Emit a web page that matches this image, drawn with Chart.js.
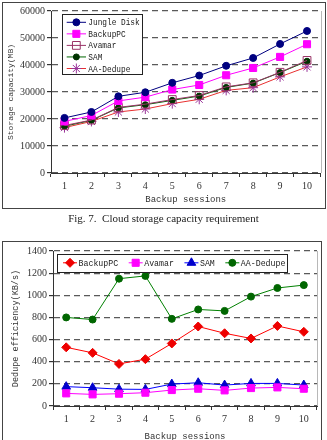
<!DOCTYPE html>
<html><head><meta charset="utf-8">
<script src="https://cdn.jsdelivr.net/npm/chart.js@4"></script>
<style>
html,body{margin:0;padding:0;background:#fff;overflow:hidden;width:327px;height:440px;}
#wrap{position:relative;width:327px;height:440px;overflow:hidden;}
canvas{position:absolute;left:0;}
.frame{position:absolute;border:1.5px solid #444;box-sizing:border-box;pointer-events:none;}
#cap{position:absolute;left:0;width:327px;top:212px;text-align:center;font:11px "Liberation Serif";color:#222;line-height:13px;white-space:pre;}
</style></head><body>
<div id="wrap">
<canvas id="c1" width="327" height="210" style="top:0"></canvas>
<div class="frame" style="left:2px;top:2px;width:324px;height:207px"></div>
<div id="cap">Fig. 7.  Cloud storage capacity requirement</div>
<canvas id="c2" width="327" height="204" style="top:240px"></canvas>
<div class="frame" style="left:2px;top:241px;width:320px;height:210px"></div>
</div>
<script>
// ---- data ----
const sessions = ['1','2','3','4','5','6','7','8','9','10'];

// Fig. 7: storage capacity (MB)
const jungleDisk = [20400, 22600, 28400, 29900, 33400, 36100, 39700, 42600, 47800, 52600];
const backupPC   = [19100, 21300, 26700, 28100, 30900, 32600, 36200, 38900, 43000, 47700];
const avamar     = [17600, 19600, 24300, 25500, 27200, 28700, 31900, 33400, 37300, 41700];
const sam        = [17300, 19500, 24100, 25300, 26900, 28500, 31700, 33300, 37200, 41400];
const aaDedupe   = [16800, 19100, 22600, 23700, 25700, 27300, 30600, 31600, 35600, 39300];

// Dedupe efficiency (KB/s)
const effBackupPC = [530, 480, 380, 423, 565, 718, 657, 610, 723, 670];
const effAvamar   = [114, 105, 111, 120, 144, 156, 141, 162, 168, 156];
const effSAM      = [175, 165, 152, 150, 198, 210, 189, 204, 204, 189];
const effAADedupe = [800, 781, 1150, 1175, 787, 872, 859, 988, 1066, 1092];

const storageMax = 60000, storageStep = 10000;
const effMax = 1400, effStep = 200;

// ---- plugins ----
const lineLegend = {
  id: 'lineLegend',
  afterDraw(chart, args, o) {
    const ctx = chart.ctx, ca = chart.chartArea, ds = chart.data.datasets;
    ctx.save();
    ctx.font = o.fontSize + 'px "Liberation Mono"';
    const sx = o.scaleX;
    const x0 = ca.left + o.dx, y0 = ca.top + o.dy;
    const items = [];
    let w, h;
    if (o.horizontal) {
      let x = x0 + o.padL;
      const y = y0 + o.h / 2;
      ds.forEach(d => {
        const tw = ctx.measureText(d.label).width * sx;
        items.push({d, lx: x, y, tx: x + o.lineLen + o.gap});
        x += o.lineLen + o.gap + tw + o.itemGap;
      });
      w = x - o.itemGap + o.padR - x0; h = o.h;
    } else {
      let maxw = 0;
      ds.forEach((d, i) => {
        const tw = ctx.measureText(d.label).width * sx;
        maxw = Math.max(maxw, tw);
        items.push({d, lx: x0 + o.padL, y: y0 + o.padT + o.rowH * i, tx: x0 + o.padL + o.lineLen + o.gap});
      });
      w = o.padL + o.lineLen + o.gap + maxw + o.padR;
      h = o.padT + o.rowH * (ds.length - 1) + o.padB;
    }
    ctx.fillStyle = '#fff';
    ctx.fillRect(x0, y0, w, h);
    ctx.strokeStyle = '#222'; ctx.lineWidth = 1;
    ctx.strokeRect(Math.round(x0) + 0.5, Math.round(y0) + 0.5, Math.round(w), Math.round(h));
    items.forEach(it => {
      const d = it.d;
      ctx.strokeStyle = d.borderColor; ctx.lineWidth = d.borderWidth || 1;
      ctx.beginPath(); ctx.moveTo(it.lx, it.y); ctx.lineTo(it.lx + o.lineLen, it.y); ctx.stroke();
      ctx.fillStyle = d.pointBackgroundColor; ctx.strokeStyle = d.pointBorderColor; ctx.lineWidth = d.pointBorderWidth;
      Chart.helpers.drawPoint(ctx, {pointStyle: d.pointStyle, radius: d.pointRadius, rotation: 0, borderWidth: d.pointBorderWidth}, it.lx + o.lineLen / 2, it.y);
      ctx.save(); ctx.translate(it.tx, it.y); ctx.scale(sx, 1);
      ctx.fillStyle = '#222'; ctx.textBaseline = 'middle'; ctx.textAlign = 'left';
      ctx.fillText(d.label, 0, 0.5);
      ctx.restore();
    });
    ctx.restore();
  }
};
const plotEdge = {
  id: 'plotEdge',
  beforeDatasetsDraw(chart) {
    const {ctx, chartArea: ca} = chart;
    ctx.save(); ctx.strokeStyle = '#b8b8b8'; ctx.lineWidth = 1;
    const x = Math.round(ca.right) + 0.5;
    ctx.beginPath(); ctx.moveTo(x, ca.top); ctx.lineTo(x, ca.bottom); ctx.stroke();
    ctx.restore();
  }
};

function ds(label, data, line, pStyle, pRadius, pFill, pBorder) {
  return {label, data, borderColor: line, borderWidth: 1, pointStyle: pStyle, pointRadius: pRadius,
    pointHoverRadius: pRadius, pointBackgroundColor: pFill, pointBorderColor: pBorder || pFill,
    pointBorderWidth: 1, fill: false, tension: 0};
}

function makeOptions(cfg) {
  return {
    responsive: false, animation: false, devicePixelRatio: 1,
    layout: {padding: cfg.padding},
    plugins: {legend: {display: false}, tooltip: {enabled: false}, lineLegend: cfg.legend},
    scales: {
      x: {
        offset: true,
        grid: {offset: true, drawOnChartArea: false, tickLength: 4, tickColor: '#333'},
        border: {color: '#333', width: 1},
        ticks: {color: '#333', padding: 3, font: {family: 'Liberation Serif', size: 10}, maxRotation: 0},
        title: {display: true, text: 'Backup sessions', color: '#333',
          font: {family: 'Liberation Mono', size: 9}, padding: {top: 0, bottom: cfg.xTitlePad}},
        afterFit: s => { s.height = cfg.xHeight; }
      },
      y: {
        min: 0, max: cfg.max,
        ticks: {stepSize: cfg.step, color: '#333', padding: 2, font: {family: 'Liberation Serif', size: 10},
          callback: v => String(v)},
        grid: {color: '#5a5a5a', lineWidth: 1.2, tickLength: 4, tickColor: '#333'},
        border: {color: '#333', width: 1, dash: [6, 4]},
        title: {display: true, text: cfg.yTitle, color: '#333',
          font: {family: 'Liberation Mono', size: cfg.yTitleSize}, padding: {top: cfg.yTitlePad, bottom: 0}},
        afterFit: s => { s.width = cfg.yWidth; }
      }
    }
  };
}

new Chart(document.getElementById('c1'), {
  type: 'line',
  data: {
    labels: sessions,
    datasets: [
      ds('Jungle Disk', jungleDisk, '#000080', 'circle', 3.5, '#000080'),
      ds('BackupPC', backupPC, '#ff00ff', 'rect', 5, '#ff00ff'),
      ds('Avamar', avamar, '#993366', 'rect', 5.5, 'rgba(255,255,255,0)', '#993366'),
      ds('SAM', sam, '#006600', 'circle', 3, '#003300'),
      ds('AA-Dedupe', aaDedupe, '#e83030', 'star', 5, '#993399')
    ]
  },
  options: makeOptions({
    padding: {left: 0, top: 11, right: 6, bottom: 0},
    max: storageMax, step: storageStep, yTitle: 'Storage capacity(MB)', yTitleSize: 8, yTitlePad: 5.7,
    yWidth: 51, xHeight: 37, xTitlePad: 4.6,
    legend: {dx: 11, dy: 2.6, fontSize: 9.5, scaleX: 0.82, padL: 4.7, lineLen: 19.3, gap: 2.3, padR: 2,
      padT: 8.7, rowH: 11.55, padB: 5}
  }),
  plugins: [plotEdge, lineLegend]
});

new Chart(document.getElementById('c2'), {
  type: 'line',
  data: {
    labels: sessions,
    datasets: [
      ds('BackupPC', effBackupPC, '#ff0000', 'rectRot', 4.5, '#ee0000'),
      ds('Avamar', effAvamar, '#ff00ff', 'rect', 5, '#ff00ff'),
      ds('SAM', effSAM, '#0000ff', 'triangle', 5, '#0000cc'),
      ds('AA-Dedupe', effAADedupe, '#008000', 'circle', 3.5, '#006600')
    ]
  },
  options: makeOptions({
    padding: {left: 0, top: 11, right: 10, bottom: 0},
    max: effMax, step: effStep, yTitle: 'Dedupe efficiency(KB/s)', yTitleSize: 8.5, yTitlePad: 10.5,
    yWidth: 53, xHeight: 38, xTitlePad: 2.1,
    legend: {horizontal: true, dx: 4, dy: 2.6, h: 18.4, fontSize: 9.5, scaleX: 0.87, padL: 6,
      lineLen: 14, gap: 1.5, itemGap: 10.5, padR: 2}
  }),
  plugins: [plotEdge, lineLegend]
});
</script>
</body></html>
